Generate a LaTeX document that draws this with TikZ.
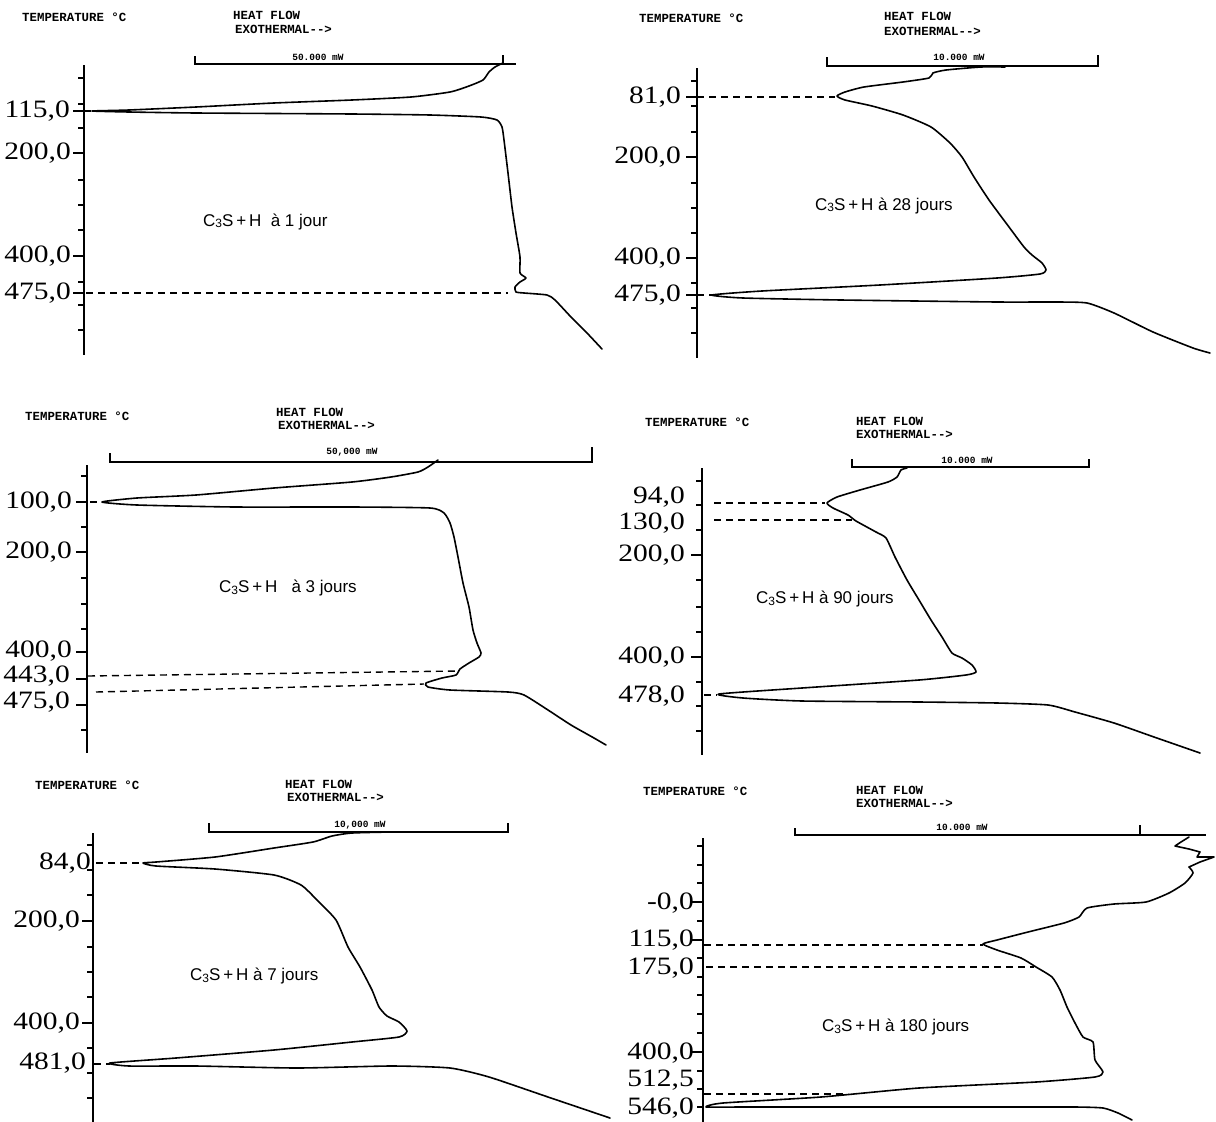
\documentclass[tikz,border=0pt]{standalone}
\usepackage{graphicx}
\usepackage{fontspec}
\setmainfont{Liberation Serif}
\newfontfamily\monof{Liberation Mono}
\newfontfamily\sansf{Liberation Sans}
\newcommand\Cts{C\raisebox{-1.5pt}{\fontsize{12}{12}\selectfont 3}S}
\newcommand\vv[1]{\scalebox{1.18}[1]{#1}}
\begin{document}
\begin{tikzpicture}[x=1pt,y=-1pt,
  axisln/.style={line width=1.7pt},
  tk/.style={line width=1.4pt},
  barln/.style={line width=1.5pt},
  curve/.style={line width=1.6pt,line join=round,line cap=round},
  dashln/.style={line width=1.4pt,dash pattern=on 7pt off 5pt},
  hdr/.style={font=\monof\bfseries\fontsize{12.4}{13}\selectfont,inner sep=0pt,anchor=west},
  scl/.style={font=\monof\bfseries\fontsize{9.5}{10}\selectfont,inner sep=0pt},
  val/.style={font=\fontsize{25}{26}\selectfont,inner sep=0pt,anchor=east,text height=16pt,text depth=3pt},
  lab/.style={font=\sansf\fontsize{17}{18}\selectfont,inner sep=0pt,anchor=west}]
\useasboundingbox (0,0) rectangle (1216,1122);

% ================= Panel 1 =================
\node[hdr] (p1t) at (22,17) {TEMPERATURE °C};
\node[hdr] (p1h) at (233,15) {HEAT FLOW};
\node[hdr] (p1e) at (235,29) {EXOTHERMAL-{}-{}>};
\draw[barln] (195,56) -- (195,64) -- (516,64);
\draw[barln] (503,55) -- (503,64);
\node[scl] (p1s) at (318,57) {50.000 mW};
\draw[axisln] (84,65) -- (84,355);
\foreach \t in {78,104,128,180,205,230,282,305,330} \draw[tk] (78,\t) -- (84,\t);
\foreach \t in {111,153,256,293} \draw[tk] (73,\t) -- (84,\t);
\node[val] (p1a) at (70,111) {\vv{115,0}};
\node[val] (p1b) at (71,153) {\vv{200,0}};
\node[val] (p1c) at (71,256) {\vv{400,0}};
\node[val] (p1d) at (71,293) {\vv{475,0}};
\draw[dashln] (84,111) -- (100,111);
\draw[dashln] (86,293) -- (508,293);
\draw[curve] plot[smooth,tension=0.35] coordinates {(503,63) (495,67) (489,72) (483,80) (469,86) (450,92) (411,97) (352,100) (274,103) (196,107) (129,110) (92,111) (129,112) (196,113) (352,114) (430,115) (481,117) (497,120) (502,127) (504,140) (508,173) (512,207) (516,233) (520,257) (520,273) (526,278) (520,282) (515,287) (516,292) (524,293) (547,295) (555,300) (571,317) (587,333) (602,349)};
\node[lab] (p1l) at (203,222) {\Cts\,+\,H\ \ à 1 jour};

% ================= Panel 2 =================
\node[hdr] (p2t) at (639,18) {TEMPERATURE °C};
\node[hdr] (p2h) at (884,16) {HEAT FLOW};
\node[hdr] (p2e) at (884,31) {EXOTHERMAL-{}-{}>};
\draw[barln] (827,57) -- (827,66) -- (1098,66) -- (1098,55);
\node[scl] (p2s) at (959,57) {10.000 mW};
\draw[axisln] (697,68) -- (697,358);
\foreach \t in {81,106,132,183,208,233,283,308,333} \draw[tk] (691,\t) -- (697,\t);
\foreach \t in {97,157,258,295} \draw[tk] (686,\t) -- (697,\t);
\node[val] (p2a) at (681,97) {\vv{81,0}};
\node[val] (p2b) at (681,157) {\vv{200,0}};
\node[val] (p2c) at (681,258) {\vv{400,0}};
\node[val] (p2d) at (681,295) {\vv{475,0}};
\draw[dashln] (697,97) -- (835,97);
\draw[dashln] (697,295) -- (712,295);
\draw[curve] plot[smooth,tension=0.35] coordinates {(1005,67) (981,67) (946,70) (933,73) (929,78) (903,82) (864,87) (845,92) (837,96) (845,100) (872,106) (903,115) (931,127) (950,143) (962,157) (974,177) (989,200) (1009,227) (1024,247) (1032,255) (1042,263) (1046,270) (1040,274) (997,278) (880,285) (762,291) (712,295) (743,298) (841,300) (997,302) (1056,302) (1087,303) (1114,313) (1153,332) (1193,348) (1210,353)};
\node[lab] (p2l) at (815,206) {\Cts\,+\,H à 28 jours};

% ================= Panel 3 =================
\node[hdr] (p3t) at (25,416) {TEMPERATURE °C};
\node[hdr] (p3h) at (276,412) {HEAT FLOW};
\node[hdr] (p3e) at (278,425) {EXOTHERMAL-{}-{}>};
\draw[barln] (110,453) -- (110,462) -- (592,462) -- (592,447);
\node[scl] (p3s) at (352,452) {50,000 mW};
\draw[axisln] (87,465) -- (87,753);
\foreach \t in {476,527,578,604,629,730} \draw[tk] (81,\t) -- (87,\t);
\foreach \t in {502,552,652,679,705} \draw[tk] (76,\t) -- (87,\t);
\node[val] (p3a) at (72,502) {\vv{100,0}};
\node[val] (p3b) at (72,552) {\vv{200,0}};
\node[val] (p3c) at (72,651) {\vv{400,0}};
\node[val] (p3d) at (70,676) {\vv{443,0}};
\node[val] (p3e2) at (70,702) {\vv{475,0}};
\draw[dashln] (90,502) -- (102,502);
\draw[dashln] (88,676) -- (458,671);
\draw[dashln] (96,692) -- (424,684);
\draw[curve] plot[smooth,tension=0.35] coordinates {(438,460) (428,467) (418,472) (391,477) (352,482) (274,488) (196,495) (137,498) (102,502) (137,505) (235,507) (352,507) (430,508) (444,513) (450,523) (454,537) (458,557) (463,583) (469,607) (473,630) (477,643) (481,653) (479,657) (469,663) (460,669) (456,675) (442,678) (426,683) (428,687) (450,690) (508,692) (524,695) (548,710) (571,725) (594,738) (606,745)};
\node[lab] (p3l) at (219,588) {\Cts\,+\,H\ \ \ à 3 jours};

% ================= Panel 4 =================
\node[hdr] (p4t) at (645,422) {TEMPERATURE °C};
\node[hdr] (p4h) at (856,421) {HEAT FLOW};
\node[hdr] (p4e) at (856,434) {EXOTHERMAL-{}-{}>};
\draw[barln] (852,459) -- (852,467) -- (1089,467) -- (1089,459);
\node[scl] (p4s) at (967,460) {10.000 mW};
\draw[axisln] (702,468) -- (702,755);
\foreach \t in {481,505,530,580,607,632,682,706,731} \draw[tk] (696,\t) -- (702,\t);
\foreach \t in {555,657} \draw[tk] (691,\t) -- (702,\t);
\node[val] (p4a) at (685,497) {\vv{94,0}};
\node[val] (p4b) at (685,523) {\vv{130,0}};
\node[val] (p4c) at (685,555) {\vv{200,0}};
\node[val] (p4d) at (685,657) {\vv{400,0}};
\node[val] (p4e2) at (685,696) {\vv{478,0}};
\draw[dashln] (714,503) -- (825,503);
\draw[dashln] (714,520) -- (852,520);
\draw[dashln] (704,695) -- (717,695);
\draw[curve] plot[smooth,tension=0.35] coordinates {(907,468) (901,470) (897,477) (888,482) (860,490) (837,497) (827,503) (833,508) (848,515) (856,521) (876,532) (886,538) (895,557) (907,580) (919,600) (931,620) (942,637) (952,653) (962,658) (972,665) (976,672) (966,675) (919,680) (802,688) (719,694) (743,698) (802,701) (919,702) (997,703) (1048,705) (1075,712) (1114,723) (1154,737) (1200,753)};
\node[lab] (p4l) at (756,599) {\Cts\,+\,H à 90 jours};

% ================= Panel 5 =================
\node[hdr] (p5t) at (35,785) {TEMPERATURE °C};
\node[hdr] (p5h) at (285,784) {HEAT FLOW};
\node[hdr] (p5e) at (287,797) {EXOTHERMAL-{}-{}>};
\draw[barln] (209,823) -- (209,832) -- (508,832) -- (508,823);
\node[scl] (p5s) at (360,825) {10,000 mW};
\draw[axisln] (93,833) -- (93,1122);
\foreach \t in {845,870,895,947,972,997,1048,1073,1098} \draw[tk] (87,\t) -- (93,\t);
\foreach \t in {921,1023} \draw[tk] (82,\t) -- (93,\t);
\node[val] (p5a) at (91,863) {\vv{84,0}};
\node[val] (p5b) at (80,921) {\vv{200,0}};
\node[val] (p5c) at (80,1023) {\vv{400,0}};
\node[val] (p5d) at (86,1063) {\vv{481,0}};
\draw[dashln] (96,863) -- (143,863);
\draw[dashln] (94,1064) -- (110,1064);
\draw[curve] plot[smooth,tension=0.35] coordinates {(391,832) (352,833) (332,836) (313,842) (274,848) (215,857) (156,862) (143,863) (156,866) (215,869) (274,875) (301,885) (317,900) (336,920) (348,947) (360,967) (372,990) (379,1007) (387,1016) (399,1022) (407,1031) (399,1037) (352,1042) (274,1050) (176,1058) (110,1063) (129,1066) (196,1066) (297,1068) (391,1066) (450,1068) (489,1077) (548,1097) (610,1118)};
\node[lab] (p5l) at (190,976) {\Cts\,+\,H à 7 jours};

% ================= Panel 6 =================
\node[hdr] (p6t) at (643,791) {TEMPERATURE °C};
\node[hdr] (p6h) at (856,790) {HEAT FLOW};
\node[hdr] (p6e) at (856,803) {EXOTHERMAL-{}-{}>};
\draw[barln] (795,828) -- (795,835) -- (1206,835);
\draw[barln] (1140,825) -- (1140,835);
\node[scl] (p6s) at (962,827) {10.000 mW};
\draw[axisln] (703,838) -- (703,1122);
\foreach \t in {846,865,883,921,958,977,995,1014,1033,1071,1089,1107} \draw[tk] (697,\t) -- (703,\t);
\foreach \t in {902,940,1052} \draw[tk] (692,\t) -- (703,\t);
\node[val] (p6a) at (694,903) {\vv{-0,0}};
\node[val] (p6b) at (694,940) {\vv{115,0}};
\node[val] (p6c) at (694,968) {\vv{175,0}};
\node[val] (p6d) at (694,1053) {\vv{400,0}};
\node[val] (p6e2) at (694,1080) {\vv{512,5}};
\node[val] (p6f) at (694,1108) {\vv{546,0}};
\draw[dashln] (704,945) -- (983,945);
\draw[dashln] (706,967) -- (1034,967);
\draw[dashln] (704,1094) -- (848,1094);
\draw[curve] (1189,837) -- (1181,842) -- (1175,846) -- (1189,849) -- (1200,852) -- (1197,857) -- (1214,857) -- (1200,862) -- (1189,867);
\draw[curve] plot[smooth,tension=0.35] coordinates {(1189,867) (1193,873) (1185,883) (1169,893) (1146,902) (1114,904) (1087,908) (1079,917) (1064,923) (1028,932) (997,940) (983,944) (997,950) (1021,958) (1036,967) (1052,977) (1060,990) (1067,1007) (1075,1023) (1083,1037) (1093,1042) (1095,1060) (1103,1072) (1095,1077) (1036,1082) (919,1088) (821,1097) (723,1103) (706,1107) (743,1107) (841,1107) (997,1107) (1075,1107) (1103,1108) (1118,1113) (1132,1120)};
\node[lab] (p6l) at (822,1027) {\Cts\,+\,H à 180 jours};
\end{tikzpicture}
\end{document}
